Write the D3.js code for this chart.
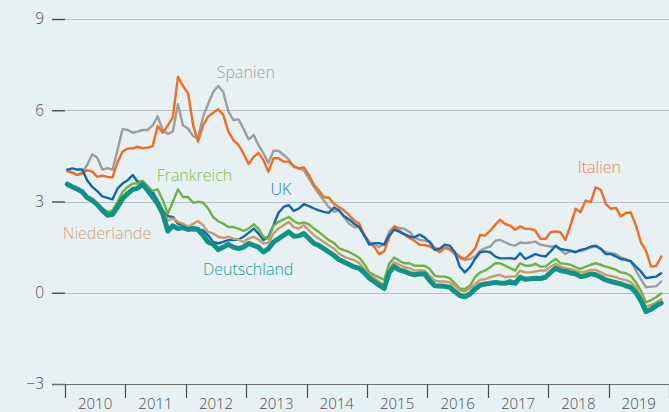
<!DOCTYPE html>
<html>
<head>
<meta charset="utf-8">
<script src="https://cdn.jsdelivr.net/npm/d3@7"></script>
<style>
  html, body { margin: 0; padding: 0; background: #e7f0f2; }
  svg { display: block; font-family: "Open Sans", "Noto Sans", sans-serif; font-weight: 300; }
</style>
</head>
<body>
<svg id="chart" width="669" height="412"></svg>
<script>
'use strict';

// monthly values, Jan 2010 .. Nov 2019
var spanien = [
  4.03, 3.95, 3.87, 3.95, 4.2, 4.55, 4.44, 4.05, 4.1, 4.05, 4.7, 5.38,
  5.35, 5.26, 5.3, 5.35, 5.35, 5.5, 5.8, 5.35, 5.22, 5.3, 6.2, 5.5,
  5.4, 5.15, 5.08, 5.8, 6.2, 6.6, 6.8, 6.6, 5.96, 5.68, 5.7, 5.4,
  5.04, 5.19, 4.86, 4.58, 4.27, 4.67, 4.67, 4.53, 4.38, 4.14, 4.09, 4.03,
  3.76, 3.48, 3.26, 3.03, 2.82, 2.66, 2.71, 2.49, 2.27, 2.16, 2.15, 1.9,
  1.66, 1.6, 1.5, 1.6, 2.0, 2.18, 2.13, 2.1, 2.0, 1.82, 1.74, 1.71,
  1.69, 1.47, 1.44, 1.52, 1.41, 1.27, 1.14, 1.08, 1.11, 1.19, 1.38, 1.47,
  1.52, 1.71, 1.74, 1.66, 1.58, 1.55, 1.65, 1.63, 1.65, 1.68, 1.58, 1.55,
  1.52, 1.52, 1.41, 1.27, 1.38, 1.36, 1.36, 1.44, 1.49, 1.52, 1.44, 1.33,
  1.3, 1.27, 1.16, 1.11, 1.03, 0.73, 0.45, 0.18, 0.2, 0.21, 0.37
];

var italien = [
  4.0, 3.95, 3.87, 3.92, 4.03, 3.98, 3.81, 3.85, 3.81, 3.79, 4.3, 4.64,
  4.74, 4.75, 4.8, 4.75, 4.77, 4.82, 5.48, 5.26, 5.5, 5.77, 7.1, 6.8,
  6.56, 5.5, 4.97, 5.5, 5.79, 5.92, 6.03, 5.85, 5.3, 5.02, 4.86, 4.58,
  4.23, 4.47, 4.6, 4.36, 3.98, 4.42, 4.42, 4.31, 4.31, 4.16, 4.09, 4.12,
  3.87, 3.54, 3.37, 3.14, 3.13, 2.92, 2.82, 2.71, 2.55, 2.38, 2.27, 1.9,
  1.66, 1.5, 1.27, 1.36, 1.82, 2.18, 2.04, 1.91, 1.8, 1.71, 1.58, 1.57,
  1.52, 1.44, 1.33, 1.47, 1.44, 1.33, 1.19, 1.11, 1.27, 1.44, 1.9, 1.88,
  2.04, 2.24, 2.4, 2.26, 2.21, 2.07, 2.18, 2.1, 2.1, 2.04, 1.77, 1.77,
  1.99, 2.02, 1.99, 1.74, 2.21, 2.76, 2.65, 3.03, 2.98, 3.47, 3.38, 2.92,
  2.76, 2.79, 2.51, 2.62, 2.64, 2.21, 1.66, 1.38, 0.86, 0.88, 1.19
];

var uk = [
  4.05, 4.09, 4.05, 4.05, 3.7, 3.48, 3.34, 3.17, 3.12, 3.07, 3.43, 3.59,
  3.7, 3.87, 3.65, 3.65, 3.5, 3.32, 3.04, 2.71, 2.52, 2.49, 2.27, 2.22,
  2.11, 2.05, 2.08, 2.05, 1.89, 1.67, 1.62, 1.67, 1.73, 1.73, 1.75, 1.84,
  1.97, 2.11, 1.95, 1.73, 1.84, 2.22, 2.63, 2.82, 2.88, 2.69, 2.77, 2.91,
  2.85, 2.77, 2.71, 2.66, 2.63, 2.8, 2.71, 2.52, 2.41, 2.27, 2.16, 1.89,
  1.58, 1.63, 1.63, 1.58, 1.88, 2.07, 2.01, 1.93, 1.85, 1.82, 1.91, 1.82,
  1.66, 1.41, 1.44, 1.58, 1.55, 1.33, 0.86, 0.67, 0.84, 1.11, 1.33, 1.36,
  1.33, 1.19, 1.13, 1.13, 1.14, 1.11, 1.3, 1.11, 1.19, 1.27, 1.22, 1.19,
  1.36, 1.55, 1.44, 1.41, 1.38, 1.33, 1.41, 1.44, 1.52, 1.55, 1.44, 1.27,
  1.27, 1.19, 1.11, 1.08, 1.03, 0.86, 0.7, 0.48, 0.51, 0.53, 0.64
];

var frankreich = [
  3.57, 3.5, 3.43, 3.29, 3.1, 2.99, 2.93, 2.77, 2.66, 2.71, 2.99, 3.32,
  3.48, 3.59, 3.59, 3.68, 3.5, 3.35, 3.4, 3.04, 2.6, 2.99, 3.4, 3.15,
  3.15, 2.96, 2.99, 2.96, 2.77, 2.49, 2.35, 2.27, 2.16, 2.16, 2.11, 2.03,
  2.11, 2.25, 2.11, 1.84, 1.78, 2.2, 2.33, 2.41, 2.49, 2.36, 2.27, 2.31,
  2.25, 2.11, 2.0, 1.86, 1.73, 1.64, 1.47, 1.4, 1.34, 1.25, 1.15, 0.95,
  0.67, 0.58, 0.51, 0.42, 0.95, 1.16, 1.05, 0.97, 0.97, 0.89, 0.89, 0.89,
  0.78, 0.56, 0.53, 0.53, 0.48, 0.31, 0.14, 0.12, 0.23, 0.51, 0.67, 0.73,
  0.84, 0.97, 0.97, 0.89, 0.81, 0.73, 0.97, 0.89, 0.89, 0.95, 0.86, 0.86,
  1.0, 1.11, 0.97, 0.95, 0.92, 0.84, 0.78, 0.86, 0.92, 0.97, 0.92, 0.86,
  0.81, 0.75, 0.67, 0.64, 0.56, 0.34, 0.07, -0.32, -0.24, -0.15, -0.02
];

var niederlande = [
  3.5, 3.45, 3.38, 3.3, 3.12, 3.02, 2.92, 2.75, 2.6, 2.62, 2.85, 3.15,
  3.3, 3.42, 3.45, 3.58, 3.4, 3.2, 2.95, 2.7, 2.38, 2.44, 2.33, 2.27,
  2.16, 2.27, 2.36, 2.22, 2.0, 1.95, 1.84, 1.8, 1.84, 1.78, 1.75, 1.67,
  1.78, 1.84, 1.75, 1.62, 1.64, 1.95, 2.11, 2.22, 2.33, 2.16, 2.11, 2.22,
  2.05, 1.89, 1.78, 1.67, 1.56, 1.45, 1.29, 1.18, 1.12, 1.07, 0.98, 0.77,
  0.59, 0.48, 0.37, 0.26, 0.81, 1.0, 0.92, 0.84, 0.81, 0.73, 0.73, 0.73,
  0.56, 0.4, 0.37, 0.37, 0.34, 0.23, 0.09, 0.04, 0.14, 0.29, 0.42, 0.45,
  0.51, 0.56, 0.59, 0.51, 0.53, 0.53, 0.73, 0.67, 0.67, 0.7, 0.73, 0.73,
  0.86, 0.95, 0.86, 0.81, 0.78, 0.73, 0.67, 0.7, 0.75, 0.75, 0.67, 0.59,
  0.55, 0.51, 0.45, 0.42, 0.34, 0.18, -0.1, -0.46, -0.4, -0.32, -0.21
];

var deutschland = [
  3.57, 3.48, 3.41, 3.32, 3.13, 3.04, 2.9, 2.71, 2.55, 2.58, 2.82, 3.1,
  3.26, 3.4, 3.43, 3.57, 3.37, 3.15, 2.93, 2.6, 2.03, 2.2, 2.11, 2.14,
  2.08, 2.11, 2.08, 1.89, 1.67, 1.6, 1.42, 1.5, 1.59, 1.5, 1.45, 1.5,
  1.62, 1.56, 1.5, 1.34, 1.45, 1.67, 1.78, 1.89, 2.0, 1.86, 1.87, 1.95,
  1.78, 1.62, 1.56, 1.45, 1.34, 1.23, 1.09, 1.01, 0.93, 0.85, 0.8, 0.66,
  0.48, 0.36, 0.25, 0.14, 0.67, 0.86, 0.75, 0.7, 0.64, 0.59, 0.62, 0.62,
  0.4, 0.23, 0.22, 0.21, 0.18, 0.04, -0.09, -0.13, -0.04, 0.12, 0.25, 0.29,
  0.31, 0.34, 0.32, 0.31, 0.37, 0.31, 0.51, 0.44, 0.46, 0.48, 0.47, 0.51,
  0.67, 0.81, 0.73, 0.7, 0.65, 0.62, 0.53, 0.56, 0.62, 0.59, 0.51, 0.42,
  0.37, 0.33, 0.29, 0.23, 0.18, 0.01, -0.26, -0.62, -0.54, -0.43, -0.34
];

var years = [2010, 2011, 2012, 2013, 2014, 2015, 2016, 2017, 2018, 2019];
var yTicks = [-3, 0, 3, 6, 9];

// drawing order: last one on top
var series = [
  {name: 'Spanien', values: spanien, color: '#9d9d9d', text: '#a2a2a2', width: 2.4,
   label: {date: new Date(2012, 6, 7), value: 7.06}},
  {name: 'Italien', values: italien, color: '#f26d21', text: '#f08550', width: 2.4,
   label: {date: new Date(2018, 5, 28), value: 3.95}},
  {name: 'UK', values: uk, color: '#1367ae', text: '#2d7dbf', width: 2.4,
   label: {date: new Date(2013, 4, 28), value: 3.2}},
  {name: 'Frankreich', values: frankreich, color: '#6db33f', text: '#80bd56', width: 2.4,
   label: {date: new Date(2011, 6, 9), value: 3.69}},
  {name: 'Niederlande', values: niederlande, color: '#c99a6b', text: '#cfa680', width: 2.4,
   label: {date: new Date(2009, 11, 19), value: 1.78}},
  {name: 'Deutschland', values: deutschland, color: '#0e9384', text: '#1a9e90', width: 5,
   label: {date: new Date(2012, 3, 14), value: 0.6}}
];

(function () {
  var width = 669,
      height = 412,
      plotLeft = 65,
      plotRight = 669,
      plotTop = 19,
      plotBottom = 384;

  var svg = d3.select('#chart');

  svg.append('rect')
    .attr('width', width)
    .attr('height', height)
    .attr('fill', '#e7f0f2');

  var x = d3.scaleTime()
    .domain([new Date(2010, 0, 1), new Date(2020, 0, 1)])
    .range([plotLeft, plotRight]);

  var y = d3.scaleLinear()
    .domain([-3, 9])
    .range([plotBottom, plotTop]);

  // grid lines (not the bottom one, the axis draws that)
  svg.append('g')
    .selectAll('line')
    .data(yTicks.filter(function (d) { return d > -3; }))
    .join('line')
      .attr('x1', plotLeft)
      .attr('x2', plotRight)
      .attr('y1', function (d) { return Math.round(y(d)) + 0.5; })
      .attr('y2', function (d) { return Math.round(y(d)) + 0.5; })
      .attr('stroke', '#b8bec1')
      .attr('stroke-width', 1);

  // y axis: short dark ticks and labels
  var yAxis = d3.axisLeft(y)
    .tickValues(yTicks)
    .tickSize(13)
    .tickPadding(8)
    .tickFormat(function (d) { return d < 0 ? '\u2212' + Math.abs(d) : d; });

  var yg = svg.append('g')
    .attr('transform', 'translate(' + plotLeft + ',0)')
    .call(yAxis);

  yg.select('.domain').remove();
  yg.selectAll('.tick line').attr('stroke', '#4a4a4a').attr('stroke-width', 1.4);
  yg.selectAll('.tick text')
    .attr('fill', '#4e4e4e')
    .attr('font-size', 15.5)
    .attr('font-weight', 300)
    .attr('font-family', '"Open Sans", sans-serif');

  // x axis baseline
  svg.append('line')
    .attr('x1', 53)
    .attr('x2', plotRight)
    .attr('y1', plotBottom + 0.5)
    .attr('y2', plotBottom + 0.5)
    .attr('stroke', '#6f6f6f')
    .attr('stroke-width', 1.2);

  // year separators
  var yearBounds = years.concat([years[years.length - 1] + 1]);
  svg.append('g')
    .selectAll('line')
    .data(yearBounds)
    .join('line')
      .attr('x1', function (d) { return Math.round(x(new Date(d, 0, 1))) + 0.5; })
      .attr('x2', function (d) { return Math.round(x(new Date(d, 0, 1))) + 0.5; })
      .attr('y1', plotBottom)
      .attr('y2', plotBottom + 14)
      .attr('stroke', '#4a4a4a')
      .attr('stroke-width', 1.2);

  svg.append('g')
    .selectAll('text')
    .data(years)
    .join('text')
      .attr('x', function (d) { return x(new Date(d, 6, 2)); })
      .attr('y', 409)
      .attr('text-anchor', 'middle')
      .attr('font-size', 15)
      .attr('fill', '#4e4e4e')
      .text(function (d) { return d; });

  // lines
  var line = d3.line()
    .x(function (d, i) { return x(new Date(2010, i, 15)); })
    .y(function (d) { return y(d); })
    .curve(d3.curveLinear);

  svg.append('g')
    .selectAll('path')
    .data(series)
    .join('path')
      .attr('d', function (s) { return line(s.values); })
      .attr('fill', 'none')
      .attr('stroke', function (s) { return s.color; })
      .attr('stroke-width', function (s) { return s.width; })
      .attr('stroke-linejoin', 'round')
      .attr('stroke-linecap', 'round');

  // series labels
  svg.append('g')
    .selectAll('text')
    .data(series)
    .join('text')
      .attr('x', function (s) { return x(s.label.date); })
      .attr('y', function (s) { return y(s.label.value); })
      .attr('font-size', 16)
      .attr('fill', function (s) { return s.text; })
      .text(function (s) { return s.name; });
})();
</script>
</body>
</html>
